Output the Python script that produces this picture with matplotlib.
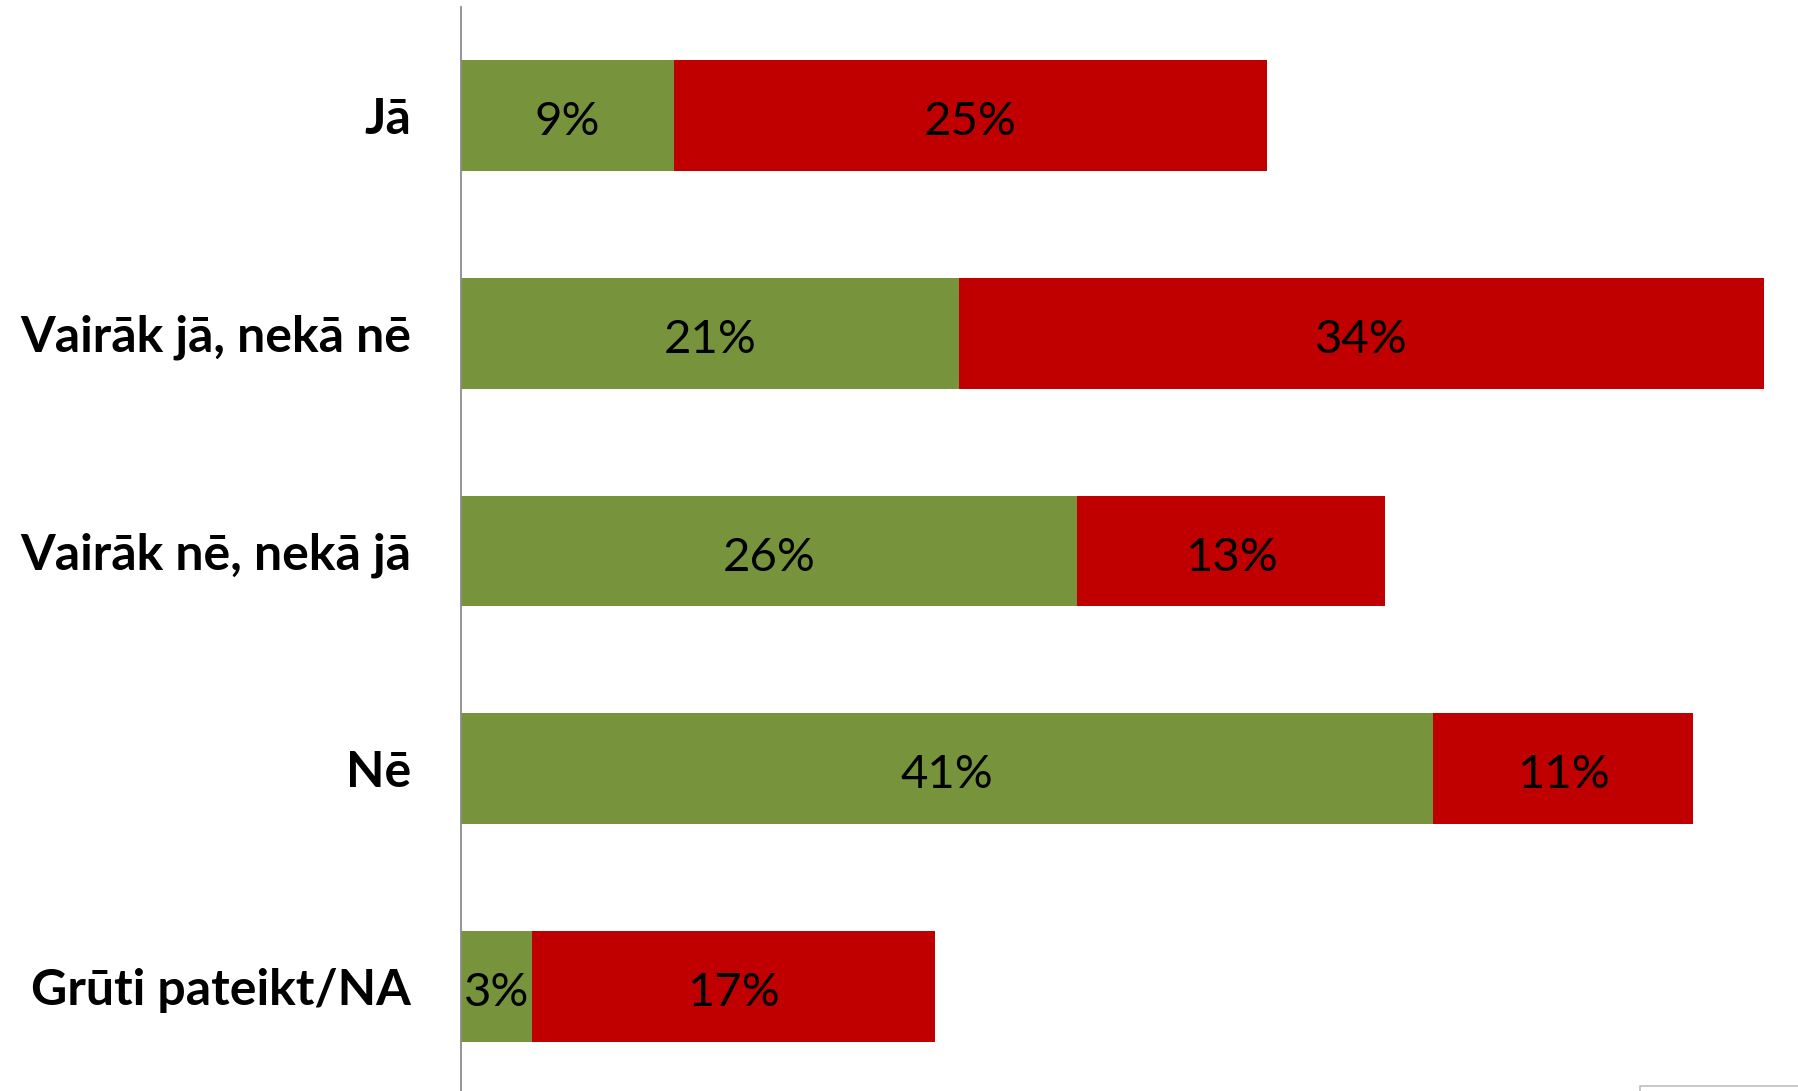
import matplotlib.pyplot as plt
import matplotlib.patches as mpatches

# Survey answers, stacked horizontal bars
categories = ['Jā', 'Vairāk jā, nekā nē', 'Vairāk nē, nekā jā', 'Nē', 'Grūti pateikt/NA']
green_vals = [9, 21, 26, 41, 3]
red_vals = [25, 34, 13, 11, 17]

GREEN = '#77933C'
RED = '#C00000'

plt.rcParams['font.family'] = ['Lato', 'DejaVu Sans']

W, H = 1799, 1091
fig = plt.figure(figsize=(W / 100, H / 100), dpi=100)
# axes placed in pixels: axis line at x=461, 23.7 px per percent
left = 461 / W
width = 56 * 23.7 / W
top_px, bot_px = 7, 1095
ax = fig.add_axes([left, 1 - bot_px / H, width, (bot_px - top_px) / H])

y = list(range(len(categories)))
ax.barh(y, green_vals, height=0.51, color=GREEN, edgecolor='none')
ax.barh(y, red_vals, left=green_vals, height=0.51, color=RED, edgecolor='none')

for i in y:
    g, r = green_vals[i], red_vals[i]
    ax.text(g / 2, i + 0.03, f'{g}%', ha='center', va='center', fontsize=34, color='black')
    ax.text(g + r / 2, i + 0.03, f'{r}%', ha='center', va='center', fontsize=34, color='black')

ax.set_xlim(0, 56)
ax.set_ylim(len(categories) - 0.5, -0.5)
ax.set_yticks(y)
ax.set_yticklabels(categories, fontsize=36, fontweight='bold')
ax.tick_params(axis='y', length=0, pad=36)
ax.set_xticks([])

for side in ['top', 'right', 'bottom']:
    ax.spines[side].set_visible(False)
ax.spines['left'].set_color('#8C8C8C')
ax.spines['left'].set_linewidth(1.3)

# corner of a legend box cut off at the bottom right
fig.patches.append(mpatches.Rectangle((1640 / W, -0.01), 0.2, 5 / H + 0.01,
                                      transform=fig.transFigure, facecolor='white',
                                      edgecolor='#BFBFBF', linewidth=1.2))

fig.savefig('out.png', dpi=100)
